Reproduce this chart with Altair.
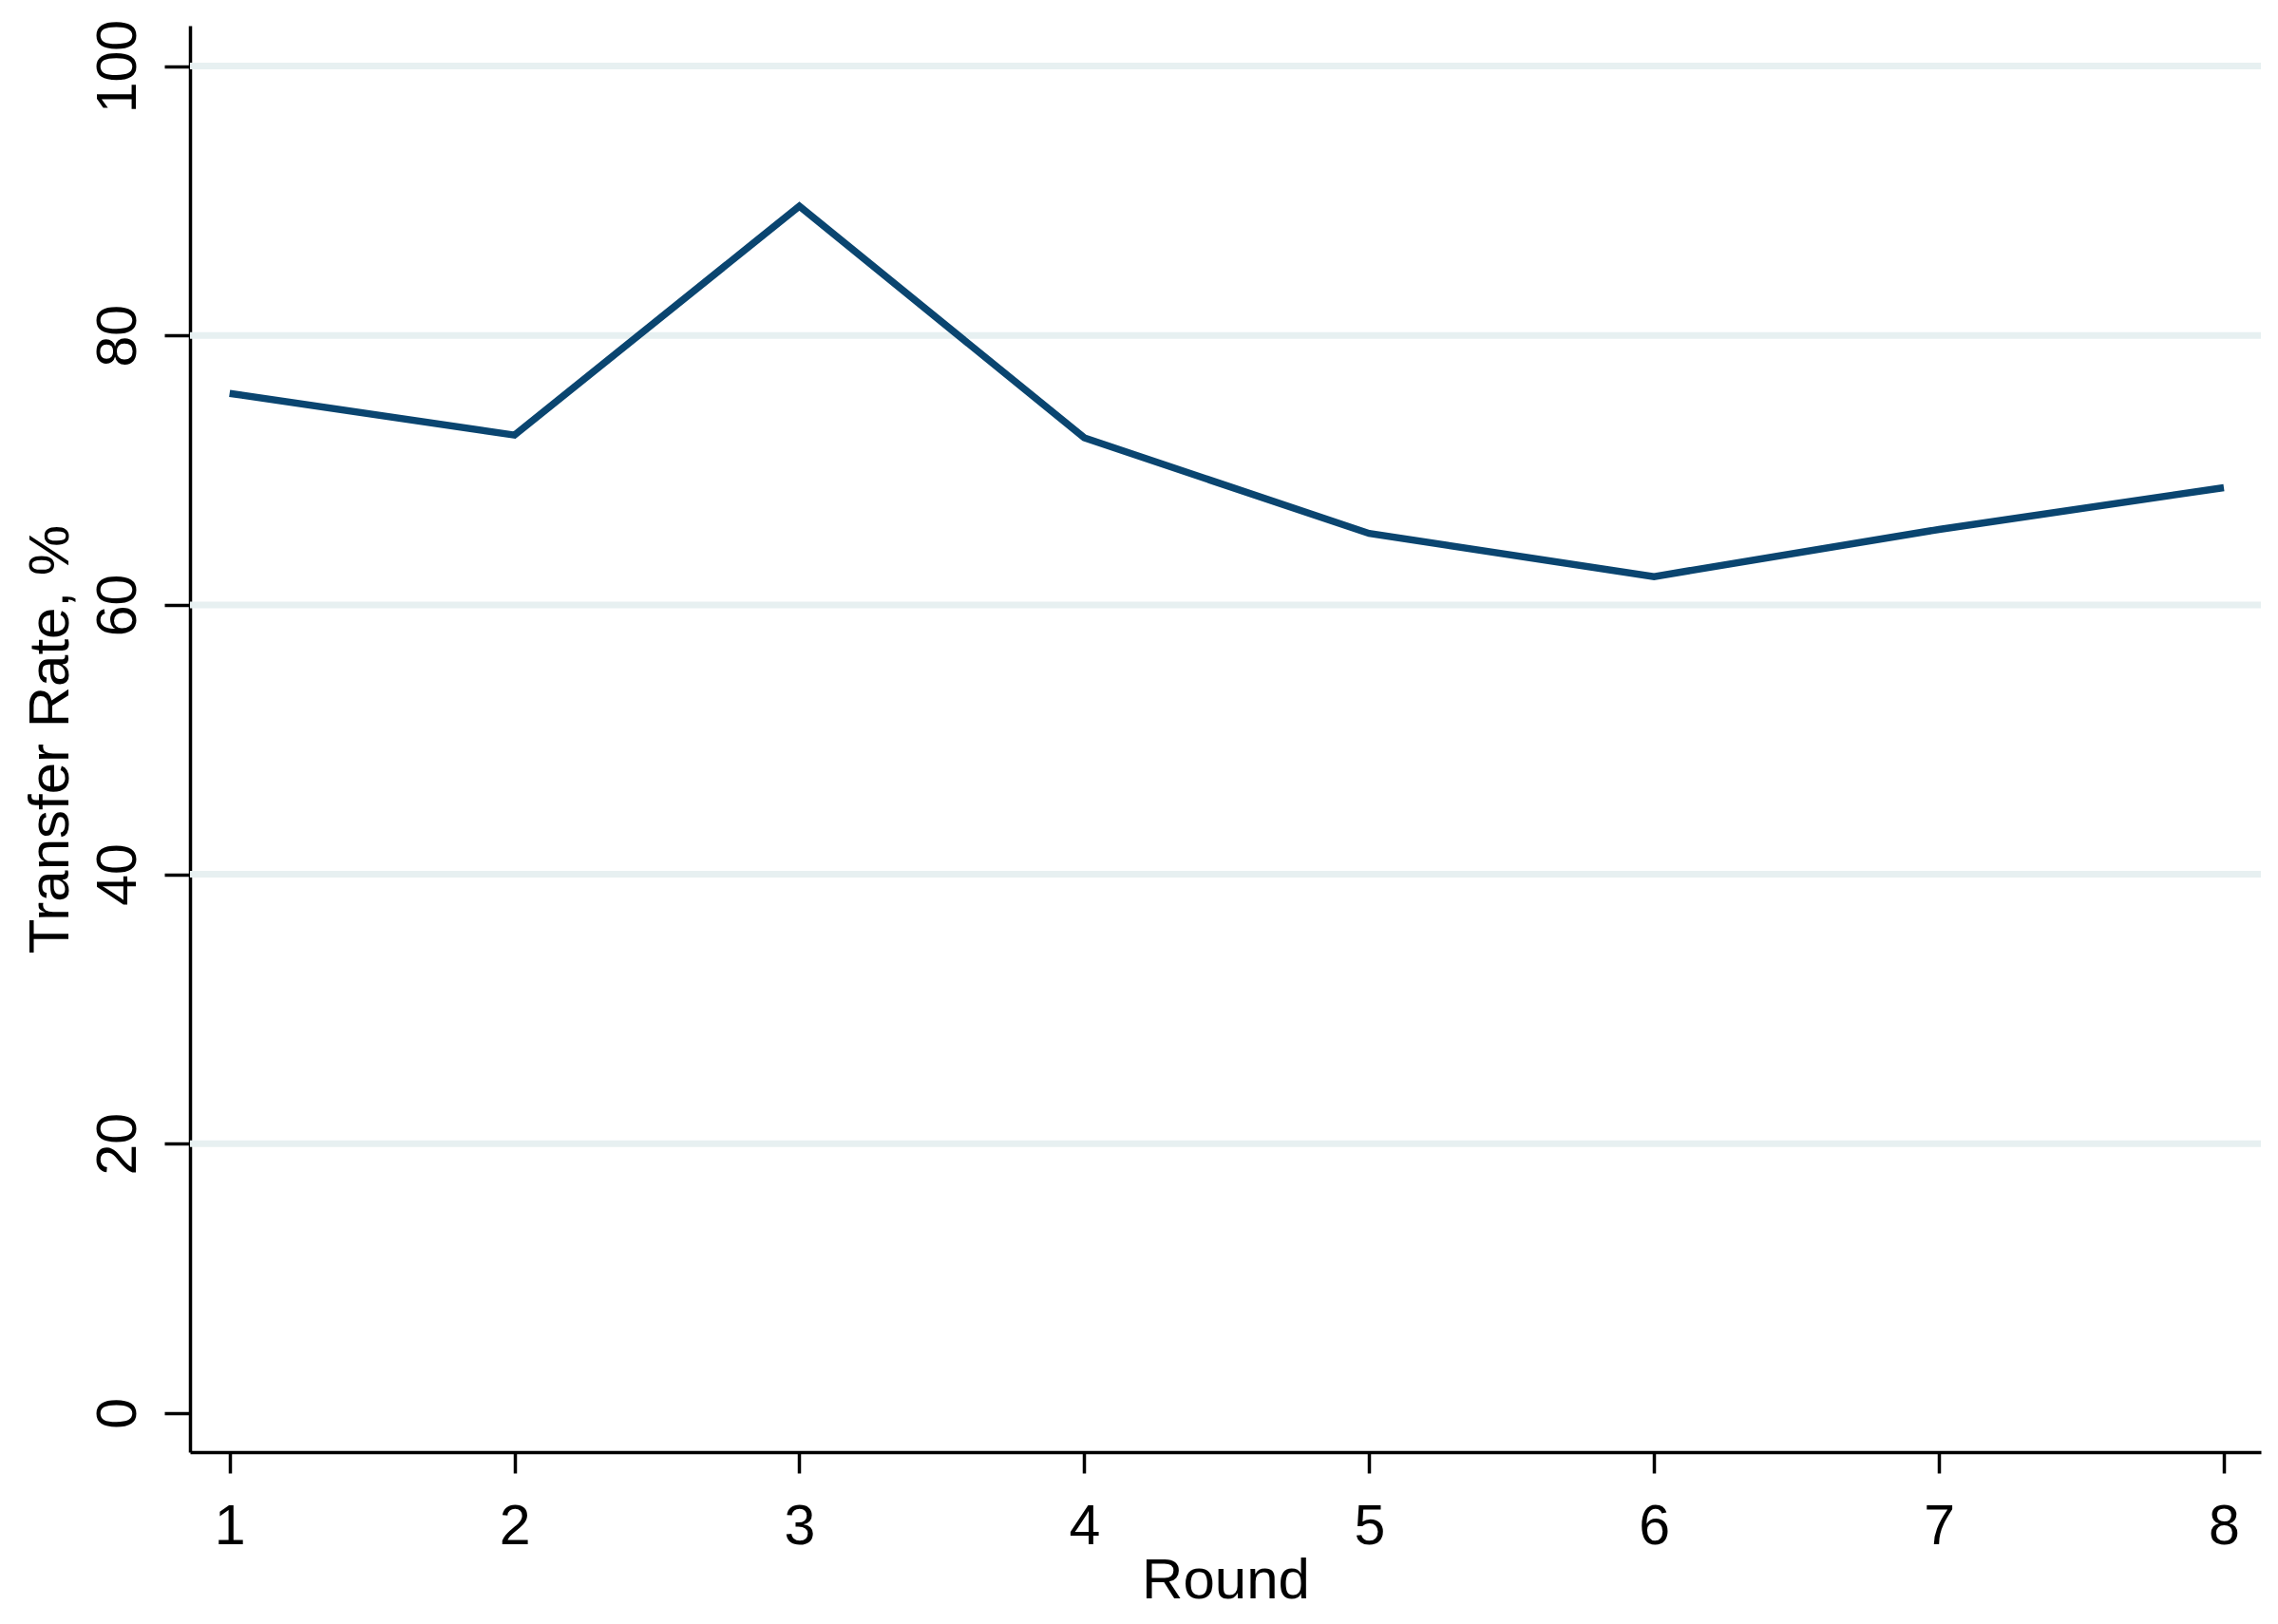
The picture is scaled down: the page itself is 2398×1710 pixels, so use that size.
import altair as alt
import pandas as pd

rounds = [1, 2, 3, 4, 5, 6, 7, 8]
transfer_rate = [75.7, 72.6, 89.6, 72.4, 65.3, 62.1, 65.6, 68.7]
grid_values = [20, 40, 60, 80, 100]
y_ticks = [0, 20, 40, 60, 80, 100]

df = pd.DataFrame({"Round": rounds, "Rate": transfer_rate})
grid_df = pd.DataFrame({"Rate": grid_values})

FONT = "Liberation Sans"
LINE_COLOR = "#0a4570"
GRID_COLOR = "#e7f0f1"

x_scale = alt.Scale(domain=[0.861, 8.13], nice=False, zero=False)
y_scale = alt.Scale(domain=[-2.9, 103.0], nice=False, zero=False)

x_axis = alt.Axis(
    title="Round",
    values=rounds,
    format="d",
    grid=False,
    domainColor="black",
    domainWidth=3.5,
    tickColor="black",
    tickWidth=3.5,
    tickSize=22,
    labelAngle=0,
    labelAlign="center",
    labelBaseline="alphabetic",
    labelPadding=74,
    labelFont=FONT,
    labelFontSize=59,
    labelColor="black",
    titleFont=FONT,
    titleFontSize=60,
    titleFontWeight="normal",
    titleColor="black",
    titleBaseline="alphabetic",
    titleX=1090,
    titleY=153,
)

y_axis = alt.Axis(
    title="Transfer Rate, %",
    values=y_ticks,
    format="d",
    grid=False,
    domainColor="black",
    domainWidth=3.5,
    tickColor="black",
    tickWidth=3.5,
    tickSize=27,
    labelAngle=-90,
    labelAlign="center",
    labelBaseline="alphabetic",
    labelPadding=31,
    labelFont=FONT,
    labelFontSize=59,
    labelColor="black",
    titleFont=FONT,
    titleFontSize=60,
    titleFontWeight="normal",
    titleColor="black",
    titleAngle=-90,
    titleAlign="center",
    titleBaseline="alphabetic",
    titleX=-129,
    titleY=751,
)

grid = alt.Chart(grid_df).mark_rule(color=GRID_COLOR, strokeWidth=7).encode(
    y=alt.Y("Rate:Q", scale=y_scale, axis=y_axis)
)

line = alt.Chart(df).mark_line(color=LINE_COLOR, strokeWidth=7.5).encode(
    x=alt.X("Round:Q", scale=x_scale, axis=x_axis),
    y=alt.Y("Rate:Q", scale=y_scale, axis=y_axis),
)

chart = (
    alt.layer(grid, line)
    .properties(
        width=2180,
        height=1502,
        autosize=alt.AutoSizeParams(type="none"),
        padding={"left": 192, "top": 19, "right": 10, "bottom": 170},
        background="white",
    )
    .configure_view(strokeWidth=0)
)

chart.save("out.html", embed_options={"renderer": "svg", "actions": False})
